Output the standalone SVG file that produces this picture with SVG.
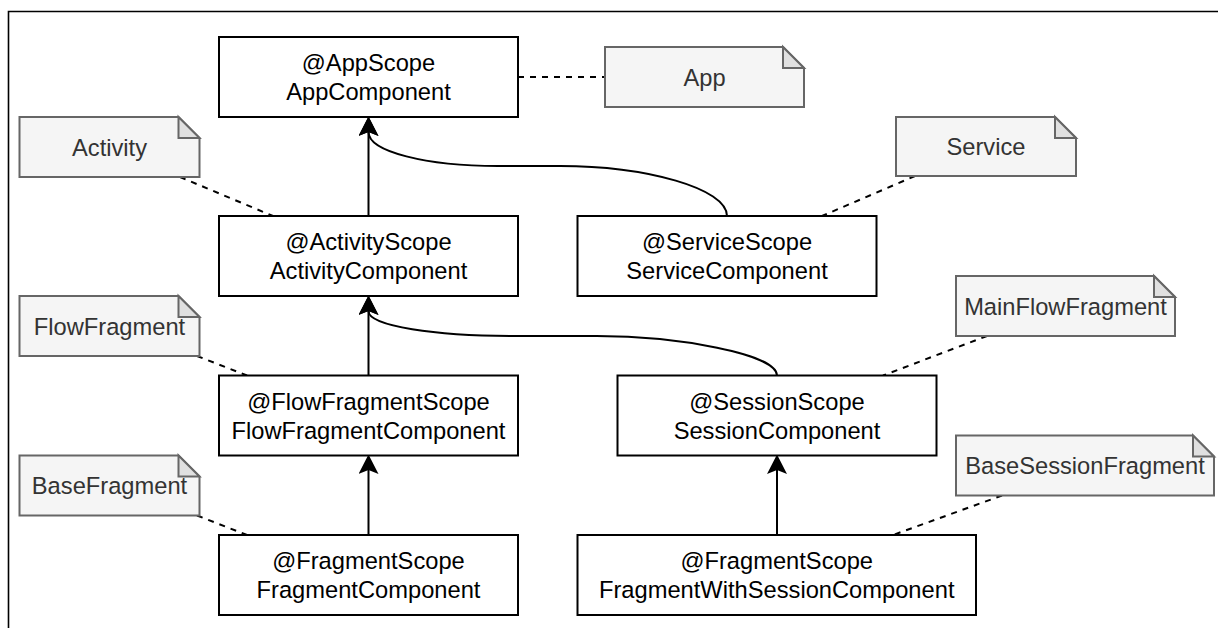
<svg xmlns="http://www.w3.org/2000/svg" width="1218" height="628" viewBox="0 0 1218 628">
  <style>
    .box { fill: #ffffff; stroke: #000000; stroke-width: 2; }
    .box-text { font-family: "Liberation Sans", Arial, sans-serif; font-size: 23.7px; fill: #000000; text-anchor: middle; }
    .note-body { fill: #f5f5f5; stroke: #666666; stroke-width: 2; stroke-linejoin: miter; }
    .note-fold { fill: #e0e0e0; stroke: #666666; stroke-width: 2; }
    .note-text { font-family: "Liberation Sans", Arial, sans-serif; font-size: 23.7px; fill: #333333; text-anchor: middle; }
    .edge { fill: none; stroke: #000000; stroke-width: 2; }
    .link { fill: none; stroke: #000000; stroke-width: 2; stroke-dasharray: 6 6; }
    .frame { fill: none; stroke: #000000; stroke-width: 1.6; }
  </style>
  <defs>
    <marker id="classic" markerUnits="userSpaceOnUse" markerWidth="20" markerHeight="20" viewBox="0 0 18 18" refX="3.5" refY="9" orient="auto">
      <path d="M0,0 L17.5,9 L0,18 L3.5,9 Z" fill="#000000"/>
    </marker>
  </defs>

  <rect width="1218" height="628" fill="#ffffff"/>
  <path class="frame" d="M8.5,628 V11.5 H1218"/>

  <!-- dependency arrows and note links -->
  <g id="connectors">
    <path class="edge" d="M368.5,216 V132" marker-end="url(#classic)"/>
    <path class="edge" d="M727,216 C727,188.4 646,166 560,166 L498,166 C426.3,166 368.5,151.7 368.5,132" marker-end="url(#classic)"/>
    <path class="edge" d="M368.5,375.5 V311" marker-end="url(#classic)"/>
    <path class="edge" d="M777,375.5 C777,353.9 677.3,336 596.7,336 L518,336 C435.2,336 368.5,326.1 368.5,311" marker-end="url(#classic)"/>
    <path class="edge" d="M368.5,535 V470" marker-end="url(#classic)"/>
    <path class="edge" d="M777,535 V470" marker-end="url(#classic)"/>

    <path class="link" d="M518,77 H605"/>
    <path class="link" d="M180,177 L273,216"/>
    <path class="link" d="M915,176 L822,216"/>
    <path class="link" d="M197,356 L247,375.5"/>
    <path class="link" d="M197,515.5 L247,535"/>
    <path class="link" d="M987,336 L883,375.5"/>
    <path class="link" d="M1002,495.5 L893,535"/>
  </g>

  <!-- component nodes -->
  <g id="app-component">
    <rect class="box" x="219" y="37" width="299" height="80"/>
    <text class="box-text" x="368.5" y="71.2">@AppScope<tspan x="368.5" dy="29">AppComponent</tspan></text>
  </g>
  <g id="activity-component">
    <rect class="box" x="219" y="216" width="299" height="80"/>
    <text class="box-text" x="368.5" y="250.2">@ActivityScope<tspan x="368.5" dy="29">ActivityComponent</tspan></text>
  </g>
  <g id="service-component">
    <rect class="box" x="577.5" y="216" width="299" height="80"/>
    <text class="box-text" x="727" y="250.2">@ServiceScope<tspan x="727" dy="29">ServiceComponent</tspan></text>
  </g>
  <g id="flow-fragment-component">
    <rect class="box" x="219" y="375.5" width="299" height="80"/>
    <text class="box-text" x="368.5" y="409.7">@FlowFragmentScope<tspan x="368.5" dy="29">FlowFragmentComponent</tspan></text>
  </g>
  <g id="session-component">
    <rect class="box" x="617.5" y="375.5" width="319" height="80"/>
    <text class="box-text" x="777" y="409.7">@SessionScope<tspan x="777" dy="29">SessionComponent</tspan></text>
  </g>
  <g id="fragment-component">
    <rect class="box" x="219" y="535" width="299" height="80"/>
    <text class="box-text" x="368.5" y="569.2">@FragmentScope<tspan x="368.5" dy="29">FragmentComponent</tspan></text>
  </g>
  <g id="fragment-with-session-component">
    <rect class="box" x="577.5" y="535" width="398.5" height="80"/>
    <text class="box-text" x="776.75" y="569.2">@FragmentScope<tspan x="776.75" dy="29">FragmentWithSessionComponent</tspan></text>
  </g>

  <!-- notes -->
  <g id="note-app">
    <path class="note-body" d="M605,47 H783 L804,68 V107 H605 Z"/>
    <path class="note-fold" d="M783,47 V68 H804 Z"/>
    <text class="note-text" x="704.5" y="85.5">App</text>
  </g>
  <g id="note-activity">
    <path class="note-body" d="M19.5,117 H178.5 L199.5,138 V177 H19.5 Z"/>
    <path class="note-fold" d="M178.5,117 V138 H199.5 Z"/>
    <text class="note-text" x="109.5" y="155.5">Activity</text>
  </g>
  <g id="note-service">
    <path class="note-body" d="M896,117 H1055 L1076,138 V176 H896 Z"/>
    <path class="note-fold" d="M1055,117 V138 H1076 Z"/>
    <text class="note-text" x="986" y="155">Service</text>
  </g>
  <g id="note-flow-fragment">
    <path class="note-body" d="M19.5,296 H178.5 L199.5,317 V356 H19.5 Z"/>
    <path class="note-fold" d="M178.5,296 V317 H199.5 Z"/>
    <text class="note-text" x="109.5" y="334.5">FlowFragment</text>
  </g>
  <g id="note-base-fragment">
    <path class="note-body" d="M19.5,455.5 H178.5 L199.5,476.5 V515.5 H19.5 Z"/>
    <path class="note-fold" d="M178.5,455.5 V476.5 H199.5 Z"/>
    <text class="note-text" x="109.5" y="494">BaseFragment</text>
  </g>
  <g id="note-main-flow-fragment">
    <path class="note-body" d="M956,276 H1154 L1175,297 V336 H956 Z"/>
    <path class="note-fold" d="M1154,276 V297 H1175 Z"/>
    <text class="note-text" x="1065.5" y="314.5">MainFlowFragment</text>
  </g>
  <g id="note-base-session-fragment">
    <path class="note-body" d="M956,435.5 H1193 L1214,456.5 V495.5 H956 Z"/>
    <path class="note-fold" d="M1193,435.5 V456.5 H1214 Z"/>
    <text class="note-text" x="1085" y="474">BaseSessionFragment</text>
  </g>
</svg>
